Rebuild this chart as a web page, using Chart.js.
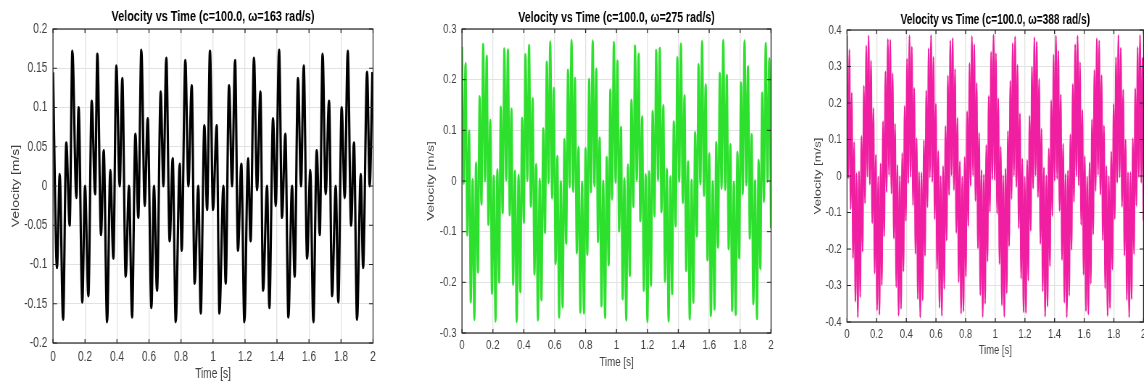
<!DOCTYPE html>
<html>
<head>
<meta charset="utf-8">
<title>Velocity vs Time</title>
<script src="https://cdn.jsdelivr.net/npm/chart.js@4.4.1/dist/chart.umd.min.js"></script>
<style>
  html, body { margin: 0; padding: 0; background: #fff; }
  body { width: 1144px; height: 385px; position: relative; overflow: hidden; }
  /* the source figure was squeezed sideways, so each panel is drawn wide and scaled */
  .panel { position: absolute; top: 0; height: 385px; transform-origin: 0 0; transform: scaleX(0.725); }
</style>
</head>
<body>
<div class="panel" style="left:0px;width:524px"><canvas id="chart1" width="524" height="385"></canvas></div>
<div class="panel" style="left:380px;width:552px"><canvas id="chart2" width="552" height="385"></canvas></div>
<div class="panel" style="left:780px;width:502px"><canvas id="chart3" width="502" height="385"></canvas></div>

<script>
/* ===========================
   DATA
=========================== */
const chartTitles = [
  "Velocity vs Time (c=100.0, ω=163 rad/s)",
  "Velocity vs Time (c=100.0, ω=275 rad/s)",
  "Velocity vs Time (c=100.0, ω=388 rad/s)"
];
const xTitle = "Time [s]";
const yTitle = "Velocity [m/s]";

const timeTicks = [0, 0.2, 0.4, 0.6, 0.8, 1, 1.2, 1.4, 1.6, 1.8, 2];
const velocityTicks1 = [-0.2, -0.15, -0.1, -0.05, 0, 0.05, 0.1, 0.15, 0.2];
const velocityTicks2 = [-0.3, -0.2, -0.1, 0, 0.1, 0.2, 0.3];
const velocityTicks3 = [-0.4, -0.3, -0.2, -0.1, 0, 0.1, 0.2, 0.3, 0.4];

// peaks and troughs, omega = 163 rad/s
const chart1Time = [
  0.000, 0.025, 0.042, 0.063, 0.083, 0.104, 0.121, 0.146, 0.160, 0.183,
  0.200, 0.221, 0.242, 0.263, 0.277, 0.300, 0.317, 0.338, 0.358, 0.377,
  0.396, 0.417, 0.433, 0.454, 0.475, 0.494, 0.515, 0.533, 0.552, 0.573,
  0.592, 0.615, 0.631, 0.650, 0.673, 0.690, 0.708, 0.729, 0.748, 0.767,
  0.792, 0.804, 0.827, 0.846, 0.867, 0.885, 0.908, 0.923, 0.946, 0.963,
  0.981, 1.000, 1.023, 1.040, 1.065, 1.079, 1.100, 1.119, 1.138, 1.156,
  1.177, 1.196, 1.219, 1.235, 1.256, 1.275, 1.296, 1.313, 1.338, 1.352,
  1.375, 1.392, 1.413, 1.431, 1.452, 1.471, 1.494, 1.510, 1.531, 1.550,
  1.567, 1.588, 1.608, 1.627, 1.648, 1.667, 1.685, 1.704, 1.725, 1.744,
  1.767, 1.783, 1.804, 1.823, 1.842, 1.863, 1.881, 1.900, 1.923, 1.938,
  1.963, 1.979, 1.996
];
const chart1Velocity = [
  0.145, -0.104, 0.015, -0.170, 0.055, -0.050, 0.172, -0.015, 0.100, -0.148,
  0.000, -0.140, 0.108, -0.010, 0.168, -0.062, 0.045, -0.173, 0.020, -0.092,
  0.153, 0.000, 0.137, -0.115, 0.000, -0.167, 0.066, -0.040, 0.173, -0.025,
  0.086, -0.155, 0.000, -0.133, 0.120, 0.000, 0.163, -0.070, 0.035, -0.173,
  0.028, -0.082, 0.160, 0.000, 0.128, -0.124, 0.000, -0.162, 0.077, -0.030,
  0.172, -0.030, 0.077, -0.162, 0.000, -0.124, 0.128, 0.000, 0.160, -0.082,
  0.028, -0.173, 0.035, -0.070, 0.163, -0.005, 0.120, -0.133, 0.000, -0.155,
  0.086, -0.025, 0.173, -0.040, 0.066, -0.167, 0.000, -0.115, 0.137, 0.000,
  0.153, -0.092, 0.020, -0.173, 0.045, -0.062, 0.168, -0.010, 0.108, -0.140,
  0.000, -0.148, 0.100, -0.015, 0.172, -0.050, 0.055, -0.170, 0.015, -0.104,
  0.145, 0.000, 0.145
];

// peaks and troughs, omega = 275 rad/s
const chart2Time = [
  0, 0.011, 0.023, 0.034, 0.046, 0.057, 0.069,
  0.08, 0.091, 0.103, 0.114, 0.126, 0.137, 0.149,
  0.16, 0.171, 0.183, 0.194, 0.206, 0.217, 0.229,
  0.24, 0.251, 0.263, 0.274, 0.286, 0.297, 0.309,
  0.32, 0.331, 0.343, 0.354, 0.366, 0.377, 0.389,
  0.4, 0.411, 0.423, 0.434, 0.446, 0.457, 0.469,
  0.48, 0.491, 0.503, 0.514, 0.526, 0.537, 0.549,
  0.56, 0.571, 0.583, 0.594, 0.606, 0.617, 0.629,
  0.64, 0.651, 0.663, 0.674, 0.686, 0.697, 0.709,
  0.72, 0.731, 0.743, 0.754, 0.766, 0.777, 0.789,
  0.8, 0.811, 0.823, 0.834, 0.846, 0.857, 0.869,
  0.88, 0.891, 0.903, 0.914, 0.926, 0.937, 0.949,
  0.96, 0.971, 0.983, 0.994, 1.006, 1.017, 1.029,
  1.04, 1.051, 1.063, 1.074, 1.086, 1.097, 1.109,
  1.12, 1.131, 1.143, 1.154, 1.166, 1.177, 1.189,
  1.2, 1.211, 1.223, 1.234, 1.246, 1.257, 1.269,
  1.28, 1.291, 1.303, 1.314, 1.326, 1.337, 1.349,
  1.36, 1.371, 1.383, 1.394, 1.406, 1.417, 1.429,
  1.44, 1.451, 1.463, 1.474, 1.486, 1.497, 1.509,
  1.52, 1.531, 1.543, 1.554, 1.566, 1.577, 1.589,
  1.6, 1.611, 1.623, 1.634, 1.646, 1.657, 1.669,
  1.68, 1.691, 1.703, 1.714, 1.726, 1.737, 1.749,
  1.76, 1.771, 1.783, 1.794, 1.806, 1.817, 1.829,
  1.84, 1.851, 1.863, 1.874, 1.886, 1.897, 1.909,
  1.92, 1.931, 1.943, 1.954, 1.966, 1.977, 1.989,
  2.0
];
const chart2Velocity = [
  0.265, -0.005, 0.232, -0.107, 0.099, -0.239, 0.003,
  -0.274, 0.036, -0.180, 0.167, -0.046, 0.270, 0.000,
  0.247, -0.086, 0.120, -0.222, 0.010, -0.277, 0.023,
  -0.200, 0.146, -0.063, 0.261, 0.002, 0.259, -0.067,
  0.142, -0.204, 0.020, -0.278, 0.012, -0.219, 0.124,
  -0.082, 0.250, 0.001, 0.268, -0.050, 0.163, -0.184,
  0.033, -0.275, 0.004, -0.235, 0.103, -0.102, 0.235,
  -0.004, 0.275, -0.034, 0.183, -0.163, 0.049, -0.269,
  -0.001, -0.249, 0.082, -0.123, 0.219, -0.012, 0.278,
  -0.021, 0.203, -0.142, 0.066, -0.259, -0.002, -0.261,
  0.064, -0.145, 0.201, -0.022, 0.277, -0.010, 0.221,
  -0.120, 0.085, -0.247, 0.000, -0.270, 0.047, -0.166,
  0.180, -0.036, 0.274, -0.003, 0.237, -0.099, 0.106,
  -0.233, 0.005, -0.275, 0.032, -0.187, 0.160, -0.051,
  0.267, 0.001, 0.251, -0.079, 0.127, -0.216, 0.013,
  -0.278, 0.019, -0.206, 0.138, -0.069, 0.258, 0.002,
  0.262, -0.061, 0.149, -0.198, 0.024, -0.277, 0.009,
  -0.223, 0.117, -0.089, 0.244, -0.001, 0.271, -0.043,
  0.169, -0.177, 0.038, -0.273, 0.002, -0.240, 0.096,
  -0.109, 0.230, -0.006, 0.276, -0.029, 0.190, -0.156,
  0.054, -0.266, -0.001, -0.253, 0.076, -0.131, 0.213,
  -0.015, 0.278, -0.017, 0.209, -0.134, 0.072, -0.256,
  -0.002, -0.264, 0.057, -0.152, 0.194, -0.026, 0.277,
  -0.008, 0.226, -0.113, 0.092, -0.243, 0.001, -0.272,
  0.041, -0.173, 0.174, -0.041, 0.272, -0.001, 0.242,
  -0.093
];

// peaks and troughs, omega = 388 rad/s
const chart3Time = [
  0, 0.0081, 0.0162, 0.0243, 0.0324, 0.0405, 0.0486, 0.0567, 0.0648, 0.0729,
  0.081, 0.0891, 0.0972, 0.1053, 0.1134, 0.1215, 0.1296, 0.1377, 0.1458, 0.1539,
  0.162, 0.1701, 0.1782, 0.1863, 0.1944, 0.2025, 0.2106, 0.2187, 0.2268, 0.2349,
  0.243, 0.2511, 0.2592, 0.2673, 0.2754, 0.2835, 0.2916, 0.2997, 0.3078, 0.3159,
  0.324, 0.3321, 0.3402, 0.3483, 0.3564, 0.3645, 0.3726, 0.3807, 0.3888, 0.3969,
  0.405, 0.4131, 0.4212, 0.4293, 0.4374, 0.4455, 0.4536, 0.4617, 0.4698, 0.4779,
  0.486, 0.4941, 0.5022, 0.5103, 0.5184, 0.5265, 0.5346, 0.5427, 0.5508, 0.5589,
  0.567, 0.5751, 0.5832, 0.5913, 0.5994, 0.6075, 0.6156, 0.6237, 0.6318, 0.6399,
  0.648, 0.6561, 0.6642, 0.6723, 0.6804, 0.6885, 0.6966, 0.7047, 0.7128, 0.7209,
  0.729, 0.7371, 0.7452, 0.7533, 0.7614, 0.7695, 0.7776, 0.7857, 0.7938, 0.8019,
  0.81, 0.8181, 0.8262, 0.8343, 0.8424, 0.8505, 0.8586, 0.8667, 0.8748, 0.8829,
  0.891, 0.8991, 0.9072, 0.9153, 0.9234, 0.9315, 0.9396, 0.9477, 0.9558, 0.9639,
  0.972, 0.9801, 0.9882, 0.9963, 1.0044, 1.0125, 1.0206, 1.0287, 1.0368, 1.0449,
  1.053, 1.0611, 1.0692, 1.0773, 1.0854, 1.0935, 1.1016, 1.1097, 1.1178, 1.1259,
  1.134, 1.1421, 1.1502, 1.1583, 1.1664, 1.1745, 1.1826, 1.1907, 1.1988, 1.2069,
  1.215, 1.2231, 1.2312, 1.2393, 1.2474, 1.2555, 1.2636, 1.2717, 1.2798, 1.2879,
  1.296, 1.3041, 1.3122, 1.3203, 1.3284, 1.3365, 1.3446, 1.3527, 1.3608, 1.3689,
  1.377, 1.3851, 1.3932, 1.4013, 1.4094, 1.4175, 1.4256, 1.4337, 1.4418, 1.4499,
  1.458, 1.4661, 1.4742, 1.4823, 1.4904, 1.4985, 1.5066, 1.5147, 1.5228, 1.5309,
  1.539, 1.5471, 1.5552, 1.5633, 1.5714, 1.5795, 1.5876, 1.5957, 1.6038, 1.6119,
  1.62, 1.6281, 1.6362, 1.6443, 1.6524, 1.6605, 1.6686, 1.6767, 1.6848, 1.6929,
  1.701, 1.7091, 1.7172, 1.7253, 1.7334, 1.7415, 1.7496, 1.7577, 1.7658, 1.7739,
  1.782, 1.7901, 1.7982, 1.8063, 1.8144, 1.8225, 1.8306, 1.8387, 1.8468, 1.8549,
  1.863, 1.8711, 1.8792, 1.8873, 1.8954, 1.9035, 1.9116, 1.9197, 1.9278, 1.9359,
  1.944, 1.9521, 1.9602, 1.9683, 1.9764, 1.9845, 1.9926, 2.0
];
const chart3Velocity = [
  0.385, -0.006, 0.346, -0.091, 0.228, -0.225, 0.093, -0.344, 0.007, -0.387,
  0.013, -0.332, 0.109, -0.207, 0.247, -0.075, 0.357, -0.001, 0.385, -0.023,
  0.316, -0.129, 0.186, -0.266, 0.058, -0.368, -0.002, -0.380, 0.034, -0.299,
  0.150, -0.165, 0.286, -0.044, 0.375, 0.003, 0.373, -0.048, 0.281, -0.171,
  0.143, -0.304, 0.030, -0.382, -0.001, -0.364, 0.063, -0.261, 0.192, -0.123,
  0.321, -0.020, 0.385, -0.002, 0.354, -0.080, 0.241, -0.213, 0.103, -0.337,
  0.011, -0.387, 0.009, -0.340, 0.098, -0.219, 0.234, -0.085, 0.350, -0.004,
  0.386, -0.016, 0.326, -0.118, 0.198, -0.255, 0.068, -0.361, -0.001, -0.383,
  0.027, -0.309, 0.137, -0.177, 0.275, -0.052, 0.371, 0.003, 0.378, -0.038,
  0.293, -0.156, 0.159, -0.291, 0.040, -0.377, -0.003, -0.371, 0.052, -0.275,
  0.177, -0.137, 0.309, -0.027, 0.383, 0.001, 0.361, -0.068, 0.255, -0.198,
  0.118, -0.326, 0.016, -0.386, 0.004, -0.350, 0.085, -0.234, 0.219, -0.098,
  0.340, -0.009, 0.387, -0.011, 0.336, -0.103, 0.213, -0.241, 0.080, -0.354,
  0.002, -0.385, 0.020, -0.321, 0.123, -0.192, 0.261, -0.063, 0.364, 0.001,
  0.382, -0.030, 0.304, -0.143, 0.171, -0.281, 0.047, -0.373, -0.003, -0.375,
  0.044, -0.286, 0.165, -0.150, 0.299, -0.034, 0.380, 0.002, 0.368, -0.058,
  0.266, -0.186, 0.129, -0.316, 0.023, -0.385, 0.001, -0.357, 0.075, -0.247,
  0.207, -0.109, 0.332, -0.013, 0.384, -0.008, 0.343, -0.095, 0.223, -0.230,
  0.088, -0.347, 0.005, -0.387, 0.015, -0.328, 0.114, -0.202, 0.252, -0.071,
  0.360, 0.000, 0.384, -0.026, 0.312, -0.134, 0.181, -0.270, 0.054, -0.370,
  -0.002, -0.379, 0.037, -0.295, 0.155, -0.160, 0.290, -0.041, 0.377, 0.003,
  0.371, -0.051, 0.276, -0.176, 0.138, -0.308, 0.027, -0.383, -0.001, -0.362,
  0.067, -0.256, 0.197, -0.118, 0.325, -0.018, 0.386, -0.003, 0.351, -0.084,
  0.236, -0.218, 0.099, -0.340, 0.010, -0.387, 0.010, -0.337, 0.103, -0.214,
  0.240, -0.081, 0.353, -0.003, 0.386, -0.018, 0.322, -0.122
];

/* ===========================
   CHART SETUP
=========================== */
const FONT = "'Liberation Sans', Arial, Helvetica, sans-serif";
const GRID = "#e2e2e2";
const AXIS = "#262626";
const LABEL = "#404040";

// MATLAB style: closed box with inward tick marks
const matlabBox = {
  id: "matlabBox",
  afterDatasetsDraw(chart) {
    const { ctx, chartArea: a, scales } = chart;
    ctx.save();
    ctx.strokeStyle = AXIS;
    ctx.lineWidth = 1.3;
    ctx.beginPath();
    scales.x.ticks.forEach(t => {
      const px = scales.x.getPixelForValue(t.value);
      ctx.moveTo(px, a.bottom); ctx.lineTo(px, a.bottom - 4);
      ctx.moveTo(px, a.top); ctx.lineTo(px, a.top + 4);
    });
    ctx.stroke();
    ctx.lineWidth = 1;
    ctx.beginPath();
    scales.y.ticks.forEach(t => {
      const py = scales.y.getPixelForValue(t.value);
      ctx.moveTo(a.left, py); ctx.lineTo(a.left + 5.5, py);
      ctx.moveTo(a.right, py); ctx.lineTo(a.right - 5.5, py);
    });
    ctx.stroke();
    ctx.lineWidth = 1.2;
    ctx.strokeRect(a.left, a.top, a.right - a.left, a.bottom - a.top);
    ctx.restore();
  }
};

function makeChart(p) {
  const points = p.time.map((t, i) => ({ x: t, y: p.velocity[i] }));
  const tickFont = { family: FONT, size: p.tickSize };
  return new Chart(document.getElementById(p.id), {
    type: "line",
    data: {
      datasets: [{
        data: points,
        borderColor: p.color,
        borderWidth: p.lineWidth,
        pointRadius: 0,
        cubicInterpolationMode: "monotone",
        fill: false
      }]
    },
    options: {
      responsive: false,
      animation: false,
      events: [],
      layout: { autoPadding: false, padding: { left: 0, right: p.padRight, top: 0, bottom: 0 } },
      plugins: {
        legend: { display: false },
        tooltip: { enabled: false },
        title: {
          display: true,
          fullSize: false,
          text: p.title,
          color: "#000",
          font: { family: FONT, size: p.titleSize, weight: "bold" },
          padding: { top: p.titleTop, bottom: p.titleBottom }
        }
      },
      scales: {
        x: {
          type: "linear",
          min: 0,
          max: 2,
          afterBuildTicks: s => { s.ticks = timeTicks.map(v => ({ value: v })); },
          afterFit: s => { s.height = p.xAxisHeight; s.paddingLeft = 0; s.paddingRight = 0; },
          ticks: { autoSkip: false, maxRotation: 0, padding: p.xTickPad, color: LABEL, font: tickFont, callback: v => String(v) },
          grid: { color: GRID, lineWidth: 1.3, drawTicks: false },
          border: { display: false },
          title: { display: true, text: xTitle, color: LABEL, font: tickFont, padding: { top: 0, bottom: p.xTitlePad } }
        },
        y: {
          type: "linear",
          min: p.yTicks[0],
          max: p.yTicks[p.yTicks.length - 1],
          afterBuildTicks: s => { s.ticks = p.yTicks.map(v => ({ value: v })); },
          afterFit: s => { s.width = p.yAxisWidth; s.paddingTop = 0; s.paddingBottom = 0; },
          ticks: { autoSkip: false, padding: p.yTickPad, color: LABEL, font: tickFont, callback: v => String(v) },
          grid: { color: GRID, lineWidth: 1, drawTicks: false },
          border: { display: false },
          title: { display: true, text: yTitle, color: LABEL, font: tickFont, padding: { top: p.yTitlePad, bottom: 0 } }
        }
      }
    },
    plugins: [matlabBox]
  });
}

makeChart({
  id: "chart1", time: chart1Time, velocity: chart1Velocity, yTicks: velocityTicks1, title: chartTitles[0],
  color: "#000000", lineWidth: 3.2,
  padRight: 9.5, yAxisWidth: 73.1, xAxisHeight: 42,
  titleSize: 15, titleTop: 8, titleBottom: 3,
  tickSize: 14, xTickPad: 5.3, yTickPad: 7.9, xTitlePad: 2, yTitlePad: 13.6
});

makeChart({
  id: "chart2", time: chart2Time, velocity: chart2Velocity, yTicks: velocityTicks2, title: chartTitles[1],
  color: "#2ee02e", lineWidth: 2.9,
  padRight: 12.7, yAxisWidth: 113.1, xAxisHeight: 52,
  titleSize: 14.5, titleTop: 9.3, titleBottom: 2.3,
  tickSize: 13.5, xTickPad: 3.9, yTickPad: 7.3, xTitlePad: 14.6, yTitlePad: 62.2
});

makeChart({
  id: "chart3", time: chart3Time, velocity: chart3Velocity, yTicks: velocityTicks3, title: chartTitles[2],
  color: "#f01ea0", lineWidth: 2.2,
  padRight: 0.6, yAxisWidth: 92.4, xAxisHeight: 63,
  titleSize: 14, titleTop: 11.6, titleBottom: 1.6,
  tickSize: 13, xTickPad: 4.5, yTickPad: 7.3, xTitlePad: 26.5, yTitlePad: 44.6
});
</script>
</body>
</html>
